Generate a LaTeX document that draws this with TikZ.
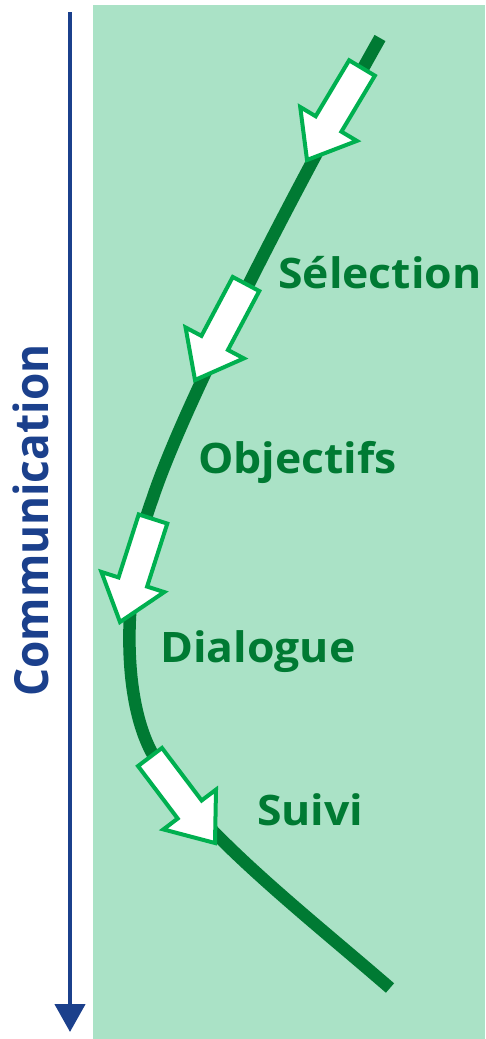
\documentclass[tikz,border=0pt]{standalone}
\usepackage{fontspec}
\setmainfont{Open Sans}
\usetikzlibrary{arrows.meta,calc}
\definecolor{bggreen}{HTML}{AAE2C6}
\definecolor{darkgreen}{HTML}{007A33}
\definecolor{brightgreen}{HTML}{00B050}
\definecolor{navy}{HTML}{1B408C}
\newcommand\blockarr[2]{%
  \coordinate (hb) at ($(#2)!42pt!(#1)$);
  \draw[blockarrow] ($(#1)!15pt!90:(#2)$) -- ($(hb)!15pt!90:(#2)$) -- ($(hb)!33pt!90:(#2)$) -- (#2)
    -- ($(hb)!33pt!-90:(#2)$) -- ($(hb)!15pt!-90:(#2)$) -- ($(#1)!15pt!-90:(#2)$) -- cycle;}
\newcommand\widetext[1]{\scalebox{1.06}[1]{#1}}
\begin{document}
\begin{tikzpicture}[x=1pt,y=-1pt,
  blockarrow/.style={draw=brightgreen,fill=white,line width=4pt,line join=miter},
  steplabel/.style={anchor=base west,inner sep=0pt,text=darkgreen,font=\bfseries\fontsize{42}{42}\selectfont},
  pathline/.style={draw=darkgreen,line width=12.5pt}]
\useasboundingbox (0,0) rectangle (485,1039);
\fill[white] (0,0) rectangle (485,1039);
\fill[bggreen] (93,5) rectangle (485,1039);
% communication axis
\coordinate (ctop) at (70,12);
\coordinate (cbot) at (70,1032);
\draw[navy,line width=4.5pt,-{Triangle[width=30pt,length=28pt]}] (ctop) -- (cbot);
\node[anchor=base west,rotate=90,inner sep=0pt,text=navy,font=\bfseries\fontsize{47}{47}\selectfont] (comm) at (48,697) {\scalebox{0.94}[1]{Communication}};
% curve
\coordinate (c0) at (380,38);
\coordinate (c1) at (152,500);
\coordinate (c2) at (152,753);
\coordinate (c3) at (390,988);
\draw[pathline] (c0) .. controls (300,180) and (185,400) .. (c1)
  .. controls (126,570) and (118,690) .. (c2)
  .. controls (190,825) and (300,910) .. (c3);
% block arrows
\coordinate (t1) at (362,68);  \coordinate (h1) at (307,160);
\coordinate (t2) at (246,284); \coordinate (h2) at (195,380);
\coordinate (t3) at (153,519); \coordinate (h3) at (120,622);
\coordinate (t4) at (150,757); \coordinate (h4) at (215,843);
\blockarr{t1}{h1}
\blockarr{t2}{h2}
\blockarr{t3}{h3}
\blockarr{t4}{h4}
% labels
\node[steplabel] (sel) at (278,288) {\widetext{Sélection}};
\node[steplabel] (obj) at (198,473) {\widetext{Objectifs}};
\node[steplabel] (dia) at (160,662) {\widetext{Dialogue}};
\node[steplabel] (sui) at (257,825) {\widetext{Suivi}};
\end{tikzpicture}
\end{document}
